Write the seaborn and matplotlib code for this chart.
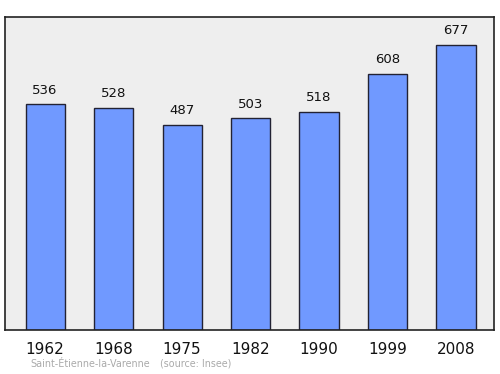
import matplotlib
matplotlib.use("Agg")
import matplotlib.pyplot as plt
import seaborn as sns
import pandas as pd

years = ["1962", "1968", "1975", "1982", "1990", "1999", "2008"]
population = [536, 528, 487, 503, 518, 608, 677]
commune = "Saint-Étienne-la-Varenne"
source = "(source: Insee)"

df = pd.DataFrame({"year": years, "pop": population})

sns.set_theme(style="white")
plt.rcParams['font.family'] = ['DejaVu Sans']

fig = plt.figure(figsize=(5.0, 3.74), dpi=100)
ax = fig.add_axes([0.010, 0.118, 0.978, 0.837])
ax.set_facecolor("#eeeeee")
sns.barplot(data=df, x="year", y="pop", ax=ax, color="#7099ff", saturation=1,
            width=0.57, edgecolor="#222233", linewidth=1.0)
for p in ax.patches:
    p.set_facecolor("#7099ff")
ax.set_xlim(-0.585, 6.555)
ax.set_ylim(0, 744)
ax.set_yticks([])
ax.set_xlabel("")
ax.set_ylabel("")
ax.tick_params(axis="x", length=0, pad=9, labelsize=11, colors="#111111")
for s in ax.spines.values():
    s.set_color("#222222")
    s.set_linewidth(1.2)
for i, v in enumerate(population):
    ax.annotate(str(v), (i, v), xytext=(0, 5.5), textcoords="offset points",
                ha="center", va="bottom", fontsize=9.5, color="#111111")
fig.text(0.06, 0.027, commune, fontsize=6.9, color="#aaaaaa", ha="left", va="center")
fig.text(0.32, 0.027, source, fontsize=6.9, color="#aaaaaa", ha="left", va="center")
fig.savefig("out.png", dpi=100)
